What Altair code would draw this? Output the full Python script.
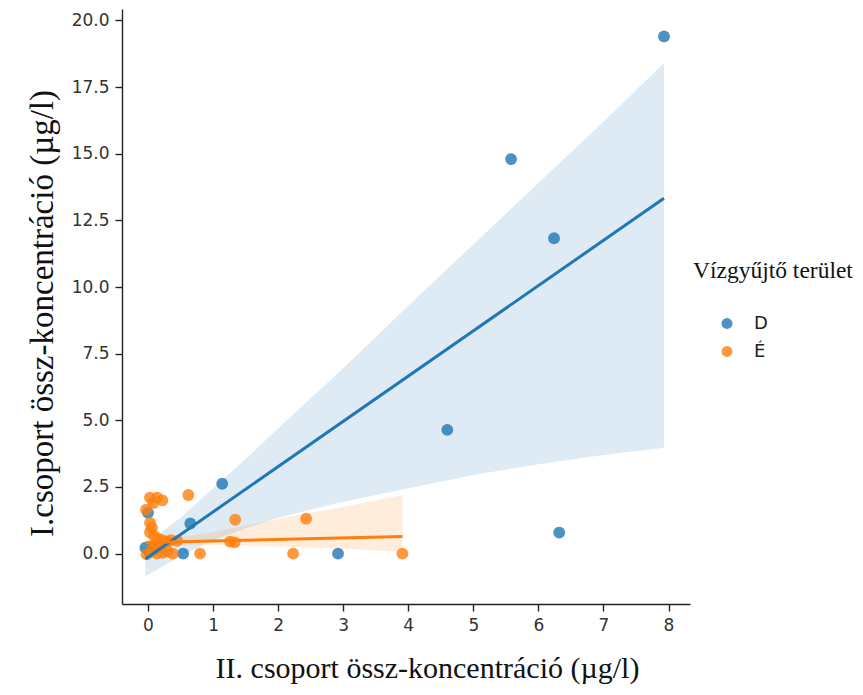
import altair as alt
import pandas as pd

# --- data ---
groups = ["D", "É"]
colors = ["#1f77b4", "#ff7f0e"]

d_x = [7.93, 5.58, 6.24, 4.60, 6.32, 2.92, 1.14, 0.65, 0.54, 0.00, -0.04, 0.02, 0.10]
d_y = [19.40, 14.80, 11.83, 4.64, 0.79, 0.00, 2.62, 1.13, 0.00, 1.53, 0.22, 0.05, 0.15]

e_x = [3.91, 2.43, 2.23, 1.34, 1.26, 1.33, 0.80, 0.62,
       0.03, 0.14, 0.22, 0.08, -0.03, 0.03, 0.06, 0.03,
       0.10, 0.16, 0.22, 0.29, 0.35, 0.45, 0.12, 0.20,
       -0.02, 0.14, 0.23, 0.38, 0.05, 0.30]
e_y = [0.00, 1.31, 0.00, 1.27, 0.45, 0.42, 0.00, 2.20,
       2.10, 2.10, 2.00, 1.90, 1.65, 1.15, 0.97, 0.80,
       0.65, 0.55, 0.50, 0.45, 0.50, 0.48, 0.35, 0.25,
       -0.03, 0.00, 0.03, 0.00, 0.15, 0.10]

# fitted regression lines
d_line_x = [-0.04, 7.93]
d_line_y = [-0.20, 13.33]
e_line_x = [-0.03, 3.91]
e_line_y = [0.42, 0.64]

# confidence bands
d_band_x = [-0.04, 0.5, 1.0, 1.5, 2.0, 3.0, 4.0, 5.0, 6.0, 7.0, 7.93]
d_band_lo = [-0.85, -0.10, 0.50, 0.95, 1.35, 1.95, 2.45, 2.95, 3.35, 3.70, 3.97]
d_band_hi = [0.35, 1.35, 2.45, 3.55, 4.70, 6.95, 9.30, 11.60, 13.90, 16.20, 18.40]
e_band_x = [-0.03, 0.5, 1.0, 2.0, 3.0, 3.91]
e_band_lo = [0.25, 0.33, 0.33, 0.27, 0.18, 0.07]
e_band_hi = [0.60, 0.62, 0.80, 1.30, 1.75, 2.20]

x_ticks = [0, 1, 2, 3, 4, 5, 6, 7, 8]
y_ticks = [0.0, 2.5, 5.0, 7.5, 10.0, 12.5, 15.0, 17.5, 20.0]

legend_title = "Vízgyűjtő terület"
x_title = "II. csoport össz-koncentráció (µg/l)"
y_title = "I.csoport össz-koncentráció (µg/l)"

# --- tables ---
pts_d = pd.DataFrame({"x": d_x, "y": d_y, "g": "D"})
pts_e = pd.DataFrame({"x": e_x, "y": e_y, "g": "É"})
line_df = pd.concat([
    pd.DataFrame({"x": d_line_x, "y": d_line_y, "g": "D"}),
    pd.DataFrame({"x": e_line_x, "y": e_line_y, "g": "É"}),
])
band_d = pd.DataFrame({"x": d_band_x, "lo": d_band_lo, "hi": d_band_hi, "g": "D"})
band_e = pd.DataFrame({"x": e_band_x, "lo": e_band_lo, "hi": e_band_hi, "g": "É"})

xs = alt.Scale(domain=[-0.40, 8.33], nice=False, zero=False)
ys = alt.Scale(domain=[-1.89, 20.43], nice=False, zero=False)
cs = alt.Scale(domain=groups, range=colors)

xax = alt.Axis(values=x_ticks, format="d", title=x_title, grid=False,
               titleX=305, titlePadding=20)
yax = alt.Axis(values=y_ticks, format=".1f", title=y_title, grid=False,
               titleY=304, titleFontSize=33, titlePadding=12)

def points(df, show_legend):
    leg = alt.Legend(title=legend_title) if show_legend else None
    return alt.Chart(df).mark_circle(size=140, opacity=0.8).encode(
        x=alt.X("x:Q", scale=xs, axis=xax),
        y=alt.Y("y:Q", scale=ys, axis=yax),
        color=alt.Color("g:N", scale=cs, legend=leg),
    )

def band(df):
    return alt.Chart(df).mark_area(opacity=0.15).encode(
        x=alt.X("x:Q", scale=xs),
        y=alt.Y("lo:Q", scale=ys),
        y2="hi:Q",
        color=alt.Color("g:N", scale=cs, legend=None),
    )

lines = alt.Chart(line_df).mark_line(strokeWidth=3).encode(
    x=alt.X("x:Q", scale=xs),
    y=alt.Y("y:Q", scale=ys),
    color=alt.Color("g:N", scale=cs, legend=None),
    detail="g:N",
)

chart = alt.layer(
    points(pts_d, True), band(band_d), points(pts_e, False), band(band_e), lines
).properties(
    width=568, height=595,
    autosize=alt.AutoSizeParams(type="none"),
    padding={"left": 114, "top": 1, "right": 163, "bottom": 83},
).configure_view(stroke=None).configure_axis(
    domainColor="#222", domainWidth=1.4, tickColor="#222", tickWidth=1.4, tickSize=7,
    labelFont="DejaVu Sans", labelFontSize=17, labelColor="#333", labelPadding=6,
    titleFont="Liberation Serif", titleFontSize=30, titleFontWeight="normal", titleColor="#111",
).configure_legend(
    orient="none", legendX=571, legendY=250,
    titleFont="Liberation Serif", titleFontSize=23.5, titleFontWeight="normal", titleColor="#111",
    titlePadding=32, labelFont="DejaVu Sans", labelFontSize=18, labelColor="#222",
    symbolType="circle", symbolSize=120, symbolOffset=25, labelOffset=18, rowPadding=10,
    symbolOpacity=0.8, symbolStrokeWidth=0,
)

chart.save("out.html", embed_options={"renderer": "svg", "actions": False})
